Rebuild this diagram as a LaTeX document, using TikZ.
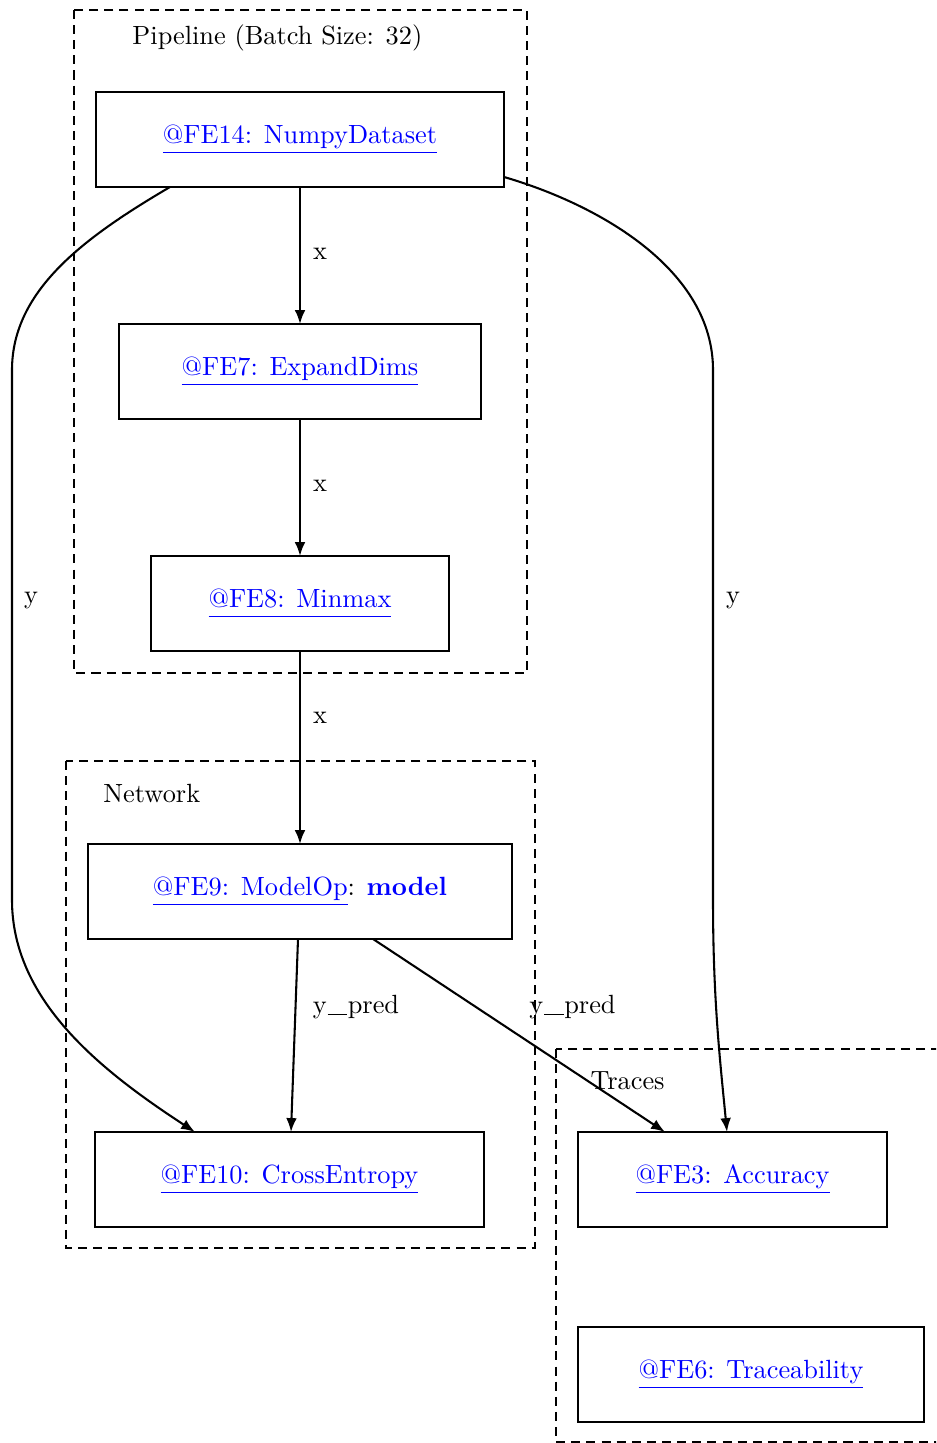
\documentclass[tikz,border=0pt]{standalone}
\usetikzlibrary{arrows.meta,calc}
\definecolor{linkblue}{RGB}{0,0,255}
\newcommand\lnk[1]{\textcolor{linkblue}{\underline{#1\vphantom{y}}}}
\newcommand\uscore{\kern0.3pt\rule[-0.6pt]{8pt}{0.45pt}\kern0.3pt}
\begin{document}
\begin{tikzpicture}[x=0.41pt,y=-0.41pt,
  opbox/.style={draw,line width=0.85pt,minimum height=38.95pt,outer sep=0pt,inner sep=0pt,font=\fontsize{10.8}{13}\selectfont},
  cluster/.style={draw,line width=0.85pt,dash pattern=on 3.7pt off 2.5pt},
  conn/.style={line width=0.85pt,-{Latex[length=5.7pt,width=4.4pt]}},
  lbl/.style={inner sep=0pt,font=\fontsize{10.8}{13}\selectfont},
]
\path[use as bounding box] (0,0) rectangle (936,1443);
\clip (0,0) rectangle (936,1443);

% clusters
\draw[cluster] (74,10) rectangle (527,673);
\draw[cluster] (66,761) rectangle (535,1248);
\draw[cluster] (556,1049) rectangle (960,1442);
\node[lbl,anchor=west] (cpipe) at (132,38) {Pipeline (Batch Size: 32)};
\node[lbl,anchor=west] (cnet) at (103,793) {Network};
\node[lbl,anchor=west] (ctr) at (590,1081) {Traces};

% nodes
\node[opbox,minimum width=167.3pt] (fe14) at (300,139.5) {\lnk{@FE14: NumpyDataset}};
\node[opbox,minimum width=148.4pt] (fe7) at (300,371.5) {\lnk{@FE7: ExpandDims}};
\node[opbox,minimum width=122.2pt] (fe8) at (300,603.5) {\lnk{@FE8: Minmax}};
\node[opbox,minimum width=173.8pt] (fe9) at (300,891.5) {\lnk{@FE9: ModelOp}: \textcolor{linkblue}{\textbf{model}}};
\node[opbox,minimum width=159.5pt] (fe10) at (289.5,1179.5) {\lnk{@FE10: CrossEntropy}};
\node[opbox,minimum width=126.7pt] (fe3) at (732.5,1179.5) {\lnk{@FE3: Accuracy}};
\node[opbox,minimum width=141.9pt] (fe6) at (751,1374.5) {\lnk{@FE6: Traceability}};

% connectors
\draw[conn] (fe14.south) -- (fe7.north);
\draw[conn] (fe7.south) -- (fe8.north);
\draw[conn] (fe8.south) -- (fe9.north);
\draw[conn] ($(fe9.south)+(-2,0)$) -- ($(fe10.north)+(1.5,0)$);
\draw[conn] ($(fe9.south west)+(285,0)$) -- ($(fe3.north west)+(87,0)$);
\draw[conn] ($(fe14.south west)+(74,0)$) .. controls (85,237) and (12,290) .. (12,370)
  -- (12,900) .. controls (12,1000) and (100,1070) .. ($(fe10.north west)+(100,0)$);
\draw[conn] ($(fe14.south east)+(0,-10)$) .. controls (600,205) and (713,270) .. (713,370)
  -- (713,900) .. controls (713,1000) and (720,1060) .. ($(fe3.north west)+(149,0)$);

% edge labels
\node[lbl] (lx1) at (320,254) {x};
\node[lbl] (lx2) at (320,486) {x};
\node[lbl] (lx3) at (320,718) {x};
\node[lbl] (ly1) at (31,601) {y};
\node[lbl] (ly2) at (733,601) {y};
\node[lbl] (lp1) at (356,1007) {y\uscore pred};
\node[lbl] (lp2) at (572.5,1007) {y\uscore pred};
\end{tikzpicture}
\end{document}
